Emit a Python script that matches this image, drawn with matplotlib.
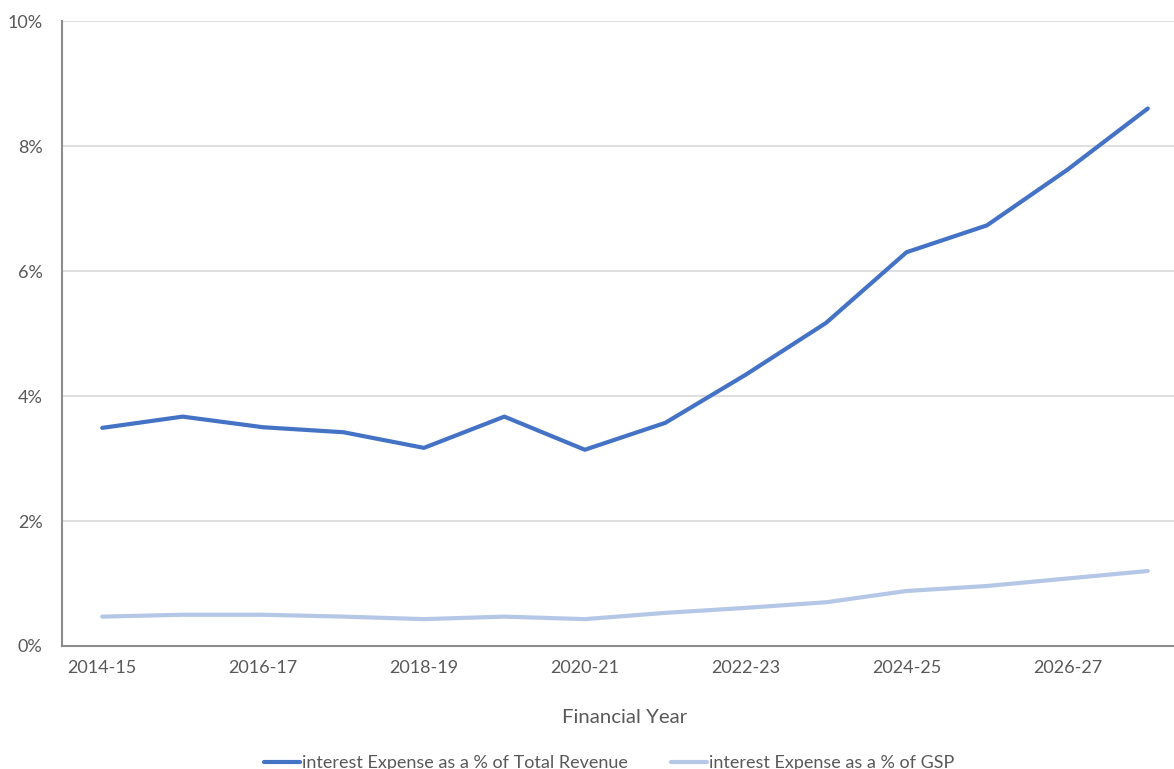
import matplotlib
matplotlib.use("Agg")
import matplotlib.pyplot as plt
from matplotlib.ticker import FuncFormatter

plt.rcParams['font.family'] = ['Lato', 'DejaVu Sans']

years = ["2014-15", "2015-16", "2016-17", "2017-18", "2018-19", "2019-20", "2020-21",
         "2021-22", "2022-23", "2023-24", "2024-25", "2025-26", "2026-27", "2027-28"]
revenue_pct = [3.49, 3.67, 3.50, 3.42, 3.17, 3.67, 3.14, 3.57, 4.34, 5.17, 6.30, 6.73, 7.62, 8.60]
gsp_pct = [0.47, 0.50, 0.50, 0.47, 0.43, 0.47, 0.43, 0.53, 0.61, 0.70, 0.88, 0.96, 1.08, 1.20]
yticks = [0, 2, 4, 6, 8, 10]

W, H = 1174, 769
fig = plt.figure(figsize=(W / 100, H / 100), dpi=100)
left, right, top, bottom = 62, 1188, 21, 646
ax = fig.add_axes([left / W, 1 - bottom / H, (right - left) / W, (bottom - top) / H])

x = list(range(len(years)))
l1, = ax.plot(x, revenue_pct, color='#4472C4', lw=3.0, solid_capstyle='round', solid_joinstyle='round',
              label='interest Expense as a % of Total Revenue')
l2, = ax.plot(x, gsp_pct, color='#B4C7E7', lw=3.0, solid_capstyle='round', solid_joinstyle='round',
              label='interest Expense as a % of GSP')

ax.set_xlim(-0.5, len(years) - 0.5)
ax.set_ylim(0, 10)
ax.set_yticks(yticks)
ax.yaxis.set_major_formatter(FuncFormatter(lambda v, p: f"{v:.0f}%"))
ax.set_xticks(x[::2])
ax.set_xticklabels(years[::2])

ax.grid(axis='y', color='#D9D9D9', lw=1.2)
ax.set_axisbelow(True)
for s in ['top', 'right']:
    ax.spines[s].set_visible(False)
for s in ['left', 'bottom']:
    ax.spines[s].set_color('#8C8C8C')
    ax.spines[s].set_linewidth(1.5)
ax.tick_params(axis='both', length=0, labelsize=13, labelcolor='#595959')
ax.tick_params(axis='y', pad=14)
ax.tick_params(axis='x', pad=10)

ax.set_xlabel('Financial Year', fontsize=14.7, color='#595959', labelpad=24)

fig.legend(handles=[l1, l2], loc='center left', bbox_to_anchor=(248 / W, 1 - 763 / H),
           ncol=2, frameon=False, fontsize=13, labelcolor='#595959',
           handlelength=2.0, handletextpad=0.1, columnspacing=2.4)

fig.savefig('out.png', dpi=100)
